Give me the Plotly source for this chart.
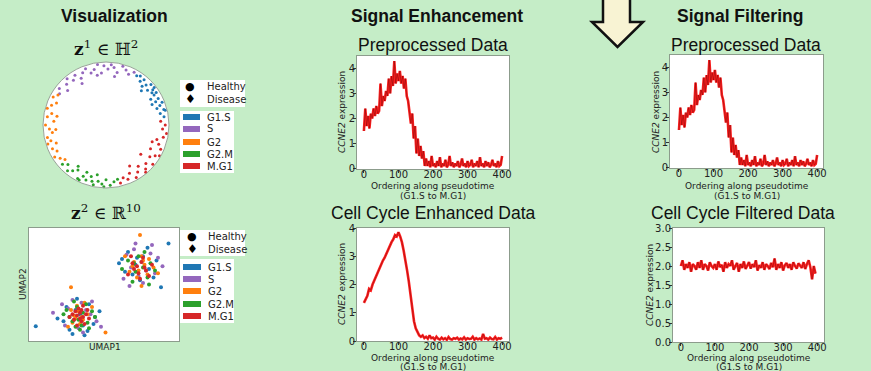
import plotly.graph_objects as go

W, H = 871, 371
BG = "#c5edc7"

# ---------------- data ----------------
phases = ["G1.S", "S", "G2", "G2.M", "M.G1"]
phase_colors = ["#1f77b4", "#9467bd", "#ff7f0e", "#2ca02c", "#d62728"]

# Poincare disk (hyperbolic embedding): angle (deg) and radius per phase
disk_theta = {
    "G1.S": [8, 12, 15, 18, 20, 22, 25, 27, 30, 33, 35, 37, 40, 42, 45, 47, 50, 52, 55, 14, 24, 32, 38, 44, 58],
    "S": [62, 66, 70, 74, 78, 82, 85, 88, 92, 95, 98, 102, 106, 110, 114, 118, 122, 126, 130, 134, 138, 142, 146, 80, 100, 120],
    "G2": [148, 152, 156, 160, 164, 168, 172, 176, 180, 184, 188, 192, 196, 200, 204, 208, 212, 216, 220, 170, 185, 198],
    "G2.M": [222, 226, 230, 234, 238, 242, 246, 250, 254, 258, 262, 266, 270, 274, 278, 282, 236, 248, 260, 268, 244, 256],
    "M.G1": [284, 288, 292, 296, 300, 304, 308, 312, 316, 320, 324, 328, 332, 336, 340, 344, 348, 352, 356, 0, 4, 300, 320, 340, 310, 330],
}
disk_r = {
    "G1.S": [0.93, 0.88, 0.95, 0.85, 0.91, 0.96, 0.87, 0.93, 0.82, 0.95, 0.89, 0.93, 0.86, 0.96, 0.9, 0.84, 0.94, 0.88, 0.95, 0.97, 0.8, 0.9, 0.97, 0.78, 0.92],
    "S": [0.95, 0.88, 0.93, 0.97, 0.85, 0.92, 0.96, 0.89, 0.94, 0.83, 0.97, 0.9, 0.86, 0.95, 0.91, 0.84, 0.93, 0.88, 0.96, 0.9, 0.82, 0.94, 0.89, 0.78, 0.8, 0.76],
    "G2": [0.9, 0.95, 0.86, 0.92, 0.97, 0.88, 0.94, 0.83, 0.96, 0.9, 0.86, 0.95, 0.91, 0.84, 0.93, 0.88, 0.96, 0.9, 0.85, 0.79, 0.8, 0.97],
    "G2.M": [0.93, 0.87, 0.95, 0.9, 0.84, 0.96, 0.89, 0.93, 0.85, 0.97, 0.9, 0.94, 0.87, 0.96, 0.91, 0.88, 0.79, 0.81, 0.8, 0.98, 0.97, 0.92],
    "M.G1": [0.95, 0.88, 0.93, 0.85, 0.96, 0.9, 0.83, 0.94, 0.88, 0.97, 0.86, 0.92, 0.8, 0.95, 0.89, 0.84, 0.93, 0.97, 0.9, 0.94, 0.87, 0.75, 0.72, 0.78, 0.98, 0.98],
}

# UMAP embedding per phase
umap_x = {
    "G1.S": [6.2, 6.6, 7.1, 7.6, 8.0, 8.5, 6.9, 7.4, 7.9, 6.4, 8.3, 9.3, 7.2, 6.0, 8.8,
             2.3, 2.7, 3.1, 3.6, 4.0, 4.4, 2.9, 3.4, 3.9, 2.5, 4.3, 3.2, 1.9, 4.7, 3.7, 0.45],
    "S": [6.5, 7.0, 7.5, 8.1, 8.6, 6.8, 7.3, 7.8, 6.3, 8.2, 7.6, 8.9, 7.1, 6.7, 8.4,
          2.6, 3.0, 3.5, 4.1, 2.4, 3.3, 3.8, 4.5, 2.9, 3.6, 1.6, 4.2, 3.1, 2.2, 4.8],
    "G2": [7.0, 7.3, 7.7, 6.7, 8.0, 7.5, 6.9, 8.3, 7.2, 7.9, 7.6, 6.4, 8.6, 7.4, 7.5,
           3.0, 3.3, 3.6, 2.8, 3.9, 3.4, 3.1, 4.2, 2.6, 3.7, 3.5, 3.2, 2.9, 5.1, 2.8],
    "G2.M": [7.1, 7.6, 8.1, 6.6, 7.3, 7.9, 6.9, 8.4, 7.7, 6.2, 8.0, 7.0,
             3.2, 3.6, 2.7, 3.9, 3.1, 4.2, 2.5, 3.4, 3.8, 2.9, 4.4, 3.5, 3.0, 2.3, 4.0, 3.3],
    "M.G1": [7.2, 7.5, 7.8, 6.9, 7.3, 8.2, 7.6, 7.0, 8.0, 6.6, 7.4, 7.7, 6.8,
             3.2, 3.4, 3.6, 3.0, 3.5, 3.3, 3.8, 3.1, 3.7, 2.9, 3.4, 3.6, 3.2, 4.0, 2.7, 3.5, 3.9],
}
umap_y = {
    "G1.S": [5.8, 6.3, 5.4, 6.0, 5.1, 5.7, 4.7, 4.3, 6.6, 4.9, 4.5, 6.9, 5.9, 5.5, 3.8,
             1.4, 0.8, 2.2, 1.1, 2.6, 1.7, 0.5, 1.9, 0.7, 2.4, 1.2, 3.0, 1.6, 2.1, 0.4, 1.05],
    "S": [6.1, 6.5, 5.6, 6.2, 5.9, 5.2, 4.6, 5.0, 4.4, 6.8, 4.1, 5.3, 6.9, 3.9, 4.8,
          2.3, 1.5, 2.7, 1.9, 1.1, 0.9, 2.2, 1.4, 2.9, 0.6, 2.0, 2.8, 1.7, 2.6, 1.0],
    "G2": [5.6, 5.0, 5.4, 4.9, 5.8, 6.0, 5.3, 5.2, 4.5, 4.7, 5.7, 6.0, 4.8, 7.5, 3.9,
           1.8, 2.1, 1.5, 2.2, 1.9, 1.2, 1.6, 2.4, 1.0, 2.7, 1.7, 2.5, 1.3, 0.6, 3.8],
    "G2.M": [4.9, 5.2, 5.5, 5.7, 6.0, 4.5, 4.2, 5.0, 6.3, 5.1, 4.0, 5.5,
             2.4, 2.0, 1.7, 1.3, 1.0, 2.1, 2.2, 0.8, 2.6, 1.4, 1.7, 1.1, 2.8, 1.9, 0.9, 1.5],
    "M.G1": [5.3, 5.6, 5.0, 5.5, 4.8, 5.4, 5.9, 5.1, 4.6, 4.7, 4.4, 5.2, 6.0,
             1.8, 2.0, 1.7, 1.5, 1.4, 2.3, 1.9, 2.1, 1.2, 1.9, 1.6, 2.5, 1.1, 1.6, 1.7, 2.2, 2.2],
}

# CCNE2 expression along pseudotime
pre_x = list(range(0, 401, 4))
pre_y = [1.5, 2.4, 1.7, 2.1, 1.6, 2.2, 2.0, 2.4, 2.1, 2.5,
         2.2, 2.3, 3.4, 2.5, 2.9, 2.7, 3.1, 2.9, 3.6, 3.0,
         3.7, 3.3, 4.3, 3.4, 3.8, 3.5, 3.9, 3.4, 3.7, 3.2,
         3.6, 2.9, 2.7, 2.3, 1.8, 2.2, 1.2, 1.7, 0.6, 1.2,
         0.5, 0.9, 0.4, 0.7, 0.1, 0.4, 0.1, 0.3, 0.05, 0.5,
         0.1,
         0.2, 0.05, 0.3, 0.1, 0.45, 0.05, 0.2, 0.1, 0.35, 0.05,
         0.15, 0.5, 0.1, 0.25, 0.05, 0.2, 0.1, 0.3, 0.05, 0.15,
         0.4, 0.1, 0.2, 0.05, 0.3, 0.1, 0.15, 0.35, 0.05, 0.2,
         0.1, 0.3, 0.05, 0.45, 0.1, 0.2, 0.05, 0.3, 0.1, 0.25,
         0.05, 0.15, 0.35, 0.1, 0.2, 0.05, 0.3, 0.1, 0.15, 0.5]

enh_x = list(range(0, 401, 5))
enh_y = [1.35, 1.5, 1.6, 1.85, 1.8, 2.0, 2.15, 2.3, 2.45, 2.55,
         2.7, 2.85, 2.95, 3.1, 3.2, 3.35, 3.5, 3.6, 3.75, 3.7,
         3.85, 3.7, 3.5, 3.2, 2.9, 2.5, 2.1, 1.6, 1.1, 0.7,
         0.45, 0.3, 0.2, 0.15, 0.2, 0.1, 0.15, 0.08, 0.2, 0.1,
         0.12,
         0.05, 0.15, 0.08, 0.05, 0.12, 0.06, 0.1, 0.04, 0.14, 0.07,
         0.05, 0.1, 0.08, 0.12, 0.05, 0.09, 0.06, 0.13, 0.05, 0.1,
         0.07, 0.08, 0.15, 0.05, 0.1, 0.06, 0.09, 0.05, 0.25, 0.08,
         0.1, 0.05, 0.12, 0.07, 0.06, 0.14, 0.05, 0.1, 0.08, 0.12]

filt_x = list(range(0, 400, 5))
filt_y = [2.0, 2.15, 1.9, 2.05, 1.95, 2.1, 1.85, 2.05, 2.0, 1.9, 2.1, 1.95, 2.15, 1.9, 2.05, 2.0, 1.88, 2.1, 2.0, 1.95,
          2.05, 1.9, 2.12, 1.97, 2.03, 1.85, 2.1, 1.95, 2.05, 2.0, 2.15, 1.9, 2.0, 2.08, 1.85, 2.05, 1.95, 2.12, 1.92, 2.0,
          2.1, 1.93, 2.05, 1.97, 2.15, 1.88, 2.02, 1.95, 2.1, 1.9, 2.05, 2.0, 1.92, 2.08, 1.97, 2.2, 1.9, 2.05, 1.95, 2.1,
          1.88, 2.02, 2.08, 1.95, 2.05, 1.9, 2.1, 2.0, 1.93, 2.07, 2.0, 1.95, 2.1, 1.92, 2.05, 2.15, 1.97, 1.65, 2.0, 1.8]

pt_ticks = [0, 100, 200, 300, 400]

# ---------------- helpers ----------------
def px(x):
    return x / W

def py(y):
    return 1 - y / H

def dom_x(a, b):
    return [px(a), px(b)]

def dom_y(top, bottom):
    return [py(bottom), py(top)]

fig = go.Figure()

# Poincare disk
for ph, col in zip(phases, phase_colors):
    fig.add_trace(go.Scatterpolar(r=disk_r[ph], theta=disk_theta[ph], mode="markers",
                                  marker=dict(color=col, size=3), subplot="polar", showlegend=False))

# UMAP scatter
for ph, col in zip(phases, phase_colors):
    fig.add_trace(go.Scatter(x=umap_x[ph], y=umap_y[ph], mode="markers",
                             marker=dict(color=col, size=4), xaxis="x", yaxis="y", showlegend=False))

# expression line plots
def add_line(xs, ys, xa, ya):
    fig.add_trace(go.Scatter(x=xs, y=ys, mode="lines", line=dict(color="#ff2020", width=2.6),
                             xaxis=xa, yaxis=ya, showlegend=False))
    fig.add_trace(go.Scatter(x=xs, y=ys, mode="lines", line=dict(color="rgba(90,0,0,0.75)", width=0.5),
                             xaxis=xa, yaxis=ya, showlegend=False))

add_line(pre_x, pre_y, "x2", "y2")
add_line(enh_x, enh_y, "x3", "y3")
add_line(pre_x, pre_y, "x4", "y4")
add_line(filt_x, filt_y, "x5", "y5")

axis_line = "#8c9c8c"
tickfont = dict(family="DejaVu Sans", size=10, color="#222")

def cart_axis(domain, rng, anchor, ticks=None, standoff=0):
    d = dict(domain=domain, range=rng, anchor=anchor, showgrid=False, zeroline=False,
             showline=True, mirror=True, linecolor=axis_line, linewidth=1)
    if ticks is None:
        d.update(showticklabels=False, ticks="")
    else:
        d.update(tickvals=ticks, ticks="outside", ticklen=3, tickcolor="#333",
                 tickfont=tickfont, ticklabelstandoff=standoff)
    return d

XS, YS = -7, -4
layout = dict(
    width=W, height=H, margin=dict(l=0, r=0, t=0, b=0, autoexpand=False),
    paper_bgcolor=BG, plot_bgcolor="white", showlegend=False,
    polar=dict(domain=dict(x=dom_x(43, 169), y=dom_y(62, 188)), bgcolor="white",
               radialaxis=dict(visible=False, range=[0, 1]),
               angularaxis=dict(showline=True, linecolor="#9aa39a", linewidth=1, showgrid=False,
                                showticklabels=False, ticks="")),
    xaxis=cart_axis(dom_x(29, 179), [0, 10], "y"),
    yaxis=cart_axis(dom_y(228, 341), [0, 8], "x"),
    xaxis2=cart_axis(dom_x(357, 509), [-20, 420], "y2", pt_ticks, XS),
    yaxis2=cart_axis(dom_y(56, 169), [-0.02, 4.5], "x2", [0, 1, 2, 3, 4], YS),
    xaxis3=cart_axis(dom_x(357, 509), [-20, 420], "y3", pt_ticks, XS),
    yaxis3=cart_axis(dom_y(228, 341), [0, 4.0], "x3", [0, 1, 2, 3, 4], YS),
    xaxis4=cart_axis(dom_x(670, 823), [-26, 417], "y4", pt_ticks, XS),
    yaxis4=cart_axis(dom_y(55, 168), [-0.02, 4.5], "x4", [0, 1, 2, 3, 4], YS),
    xaxis5=cart_axis(dom_x(673, 824), [-23, 420], "y5", pt_ticks, XS),
    yaxis5=cart_axis(dom_y(228, 342), [0, 3.0], "x5", [0, 0.5, 1.0, 1.5, 2.0, 2.5, 3.0], YS),
)
layout["yaxis5"]["tickformat"] = ".1f"
fig.update_layout(**layout)

ann = []
def text(x, y, s, size, family="Liberation Sans", color="#111", angle=0, xanchor="center"):
    ann.append(dict(x=px(x), y=py(y), xref="paper", yref="paper", text=s, showarrow=False,
                    font=dict(family=family, size=size, color=color), textangle=angle,
                    xanchor=xanchor, yanchor="middle"))

# section titles
text(114, 16, "<b>Visualization</b>", 17.5)
text(437, 16, "<b>Signal Enhancement</b>", 17.5)
text(740, 16, "<b>Signal Filtering</b>", 17.5)
# subplot titles
text(433, 45, "Preprocessed Data", 17.5)
text(433, 213, "Cell Cycle Enhanced Data", 17.5)
text(746, 45, "Preprocessed Data", 17.5)
text(743, 213, "Cell Cycle Filtered Data", 17.5)
# math labels
text(106, 48, "<b>z</b><sup>1</sup> ∈ ℍ<sup>2</sup>", 17, family="DejaVu Serif")
text(106, 212, "<b>z</b><sup>2</sup> ∈ ℝ<sup>10</sup>", 17, family="DejaVu Serif")
# axis titles
lab = dict(family="DejaVu Sans")
for cx, y1, y2 in [(433, 186, 196), (433, 357.5, 366.5), (747, 186, 196), (749, 357.5, 366.5)]:
    text(cx, y1, "Ordering along pseudotime", 9, **lab, color="#222")
    text(cx, y2, "(G1.S to M.G1)", 9, **lab, color="#222")
for cx, cy in [(342, 112), (342, 284), (656, 112), (650, 285)]:
    text(cx, cy, "<i>CCNE2</i> expression", 9, **lab, color="#222", angle=-90)
text(105, 347, "UMAP1", 9, **lab, color="#222")
text(23, 284, "UMAP2", 9, **lab, color="#222", angle=-90)

shapes = []
def rect(x0, y0, x1, y1, fill, line=None):
    shapes.append(dict(type="rect", xref="paper", yref="paper", x0=px(x0), x1=px(x1),
                       y0=py(y1), y1=py(y0), fillcolor=fill,
                       line=dict(width=0 if line is None else 1, color=line or fill)))

def legend(box1, box2, marker_x, patch_x0, patch_x1, text_x, hy, dy, rows):
    rect(*box1, "white")
    rect(*box2, "white")
    text(marker_x, hy, "●", 11, family="DejaVu Sans", color="#000")
    text(marker_x, dy, "♦", 12, family="DejaVu Sans", color="#000")
    text(text_x, hy, "Healthy", 10, family="DejaVu Sans", color="#222", xanchor="left")
    text(text_x, dy, "Disease", 10, family="DejaVu Sans", color="#222", xanchor="left")
    for ph, col, ry in zip(phases, phase_colors, rows):
        rect(patch_x0, ry - 3, patch_x1, ry + 3, col)
        text(text_x, ry, ph, 10, family="DejaVu Sans", color="#222", xanchor="left")

legend((180, 80, 245, 107), (180, 111, 234, 173), 190, 183, 200, 205, 87, 99,
       [117, 129, 142, 154, 166])
legend((180, 230, 245, 256), (180, 259, 234, 323), 192, 183, 201, 206, 236, 249,
       [267, 279, 291, 304, 316])

# down arrow
pts = [(603, -3), (603, 22), (592, 22), (617.5, 47), (643, 22), (630, 22), (630, -3)]
path = "M " + " L ".join(f"{px(a)},{py(b)}" for a, b in pts) + " Z"
shapes.append(dict(type="path", xref="paper", yref="paper", path=path,
                   fillcolor="#f8f3d3", line=dict(color="#111", width=2.5)))

fig.update_layout(annotations=ann, shapes=shapes)
fig.write_html("out.html", config={"displayModeBar": False},
               post_script="document.body.style.margin='0';document.body.style.overflow='hidden';")
